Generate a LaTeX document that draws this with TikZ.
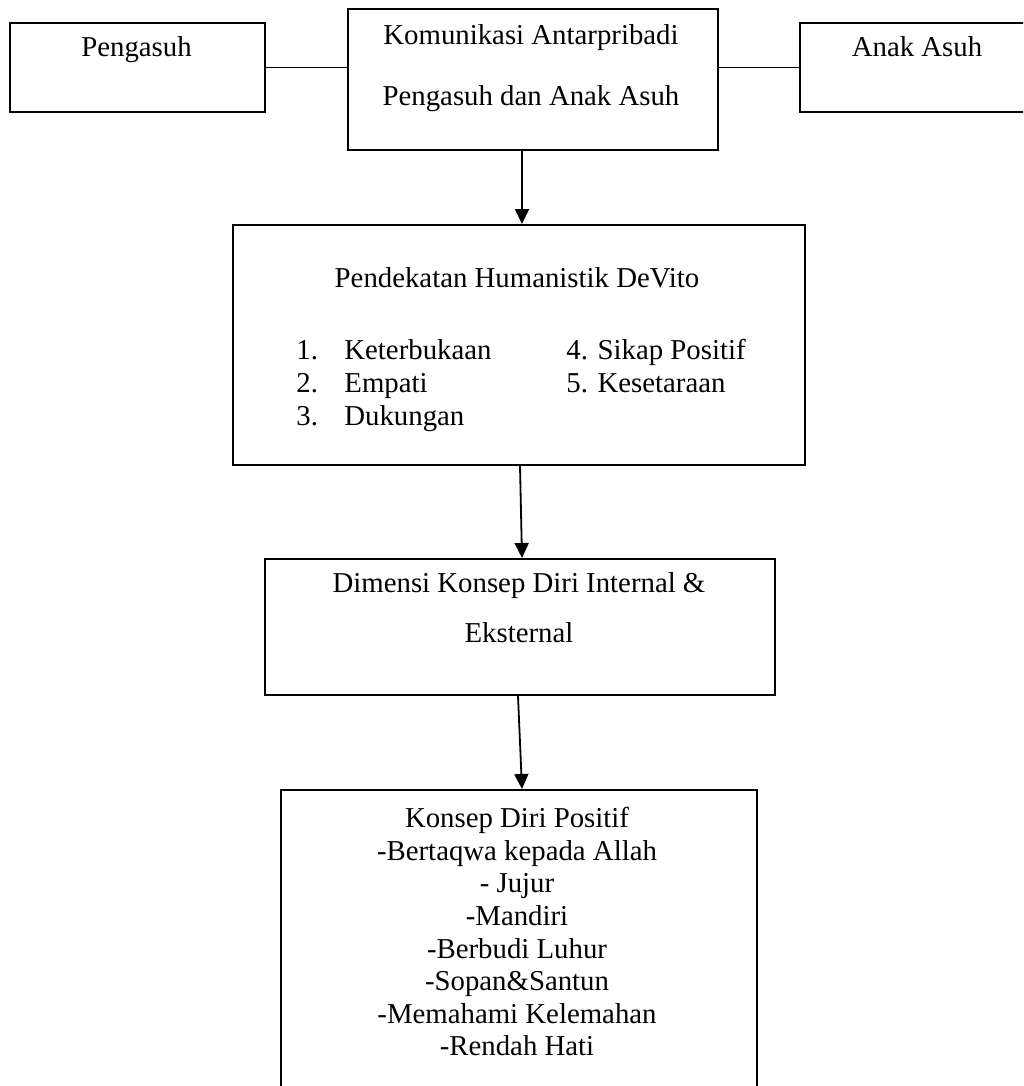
\documentclass[tikz,border=0pt]{standalone}
\usepackage{fontspec}
\setmainfont{Liberation Serif}
\usetikzlibrary{arrows.meta}
\begin{document}
\begin{tikzpicture}[x=0.5pt,y=-0.5pt,font=\fontsize{14.4}{17}\selectfont,
    box/.style={draw,line width=1pt,inner sep=0pt,anchor=north west},
    txt/.style={inner sep=0pt,text height=0.72em,text depth=0.22em},
    arr/.style={line width=0.9pt,-{Triangle[length=7.5pt,width=7pt]}}]
                    \useasboundingbox (0,0) rectangle (1023,1086);
                    \clip (0,0) rectangle (1023,1086);
                    \node[box,minimum width=127.5pt,minimum height=44.5pt] (bb0) at (9,22) {};
                    \node[box,minimum width=185pt,minimum height=70.5pt] (bb1) at (347,8) {};
                    \node[box,minimum width=118pt,minimum height=44.5pt] (bb2) at (799,22) {};
                    \node[box,minimum width=286pt,minimum height=120pt] (bb3) at (232,224) {};
                    \node[box,minimum width=255pt,minimum height=68pt] (bb4) at (264,558) {};
                    \node[box,minimum width=238pt,minimum height=162pt] (bb5) at (280,789) {};
                    \node[txt] (t0) at (136.5,52) {Pengasuh};
                    \node[txt] (t1) at (531,40) {Komunikasi Antarpribadi};
                    \node[txt] (t2) at (531,100) {Pengasuh dan Anak Asuh};
                    \node[txt] (t3) at (917,52) {Anak Asuh};
                    \node[txt] (t4) at (517,282) {Pendekatan Humanistik DeVito};
                    \node[txt,anchor=west] (n1) at (296,354) {1.};
                    \node[txt,anchor=west] (n2) at (296,387) {2.};
                    \node[txt,anchor=west] (n3) at (296,420) {3.};
                    \node[txt,anchor=west] (k1) at (344,354) {Keterbukaan};
                    \node[txt,anchor=west] (k2) at (344,387) {Empati};
                    \node[txt,anchor=west] (k3) at (344,420) {Dukungan};
                    \node[txt,anchor=west] (k4) at (566,354) {4. Sikap Positif};
                    \node[txt,anchor=west] (k5) at (566,387) {5. Kesetaraan};
                    \node[txt] (t5) at (519,587) {Dimensi Konsep Diri Internal \&};
                    \node[txt] (t6) at (519,637) {Eksternal};
                    \node[txt] (p0) at (517,822) {Konsep Diri Positif};
                    \node[txt] (p1) at (517,855) {-Bertaqwa kepada Allah};
                    \node[txt] (p2) at (517,887) {- Jujur};
                    \node[txt] (p3) at (517,920) {-Mandiri};
                    \node[txt] (p4) at (517,953) {-Berbudi Luhur};
                    \node[txt] (p5) at (517,985) {-Sopan\&Santun};
                    \node[txt] (p6) at (517,1018) {-Memahami Kelemahan};
                    \node[txt] (p7) at (517,1050) {-Rendah Hati};
                    \coordinate (c1) at (522,0);
                    \coordinate (c2) at (520,0);
                    \coordinate (c3) at (518,0);
                    \draw[line width=0.9pt] (bb0.east) -- (bb0.east -| bb1.west);
                    \draw[line width=0.9pt] (bb2.west -| bb1.east) -- (bb2.west);
                    \draw[arr] (bb1.south -| c1) -- (bb3.north -| c1);
                    \draw[arr] (bb3.south -| c2) -- (bb4.north -| c1);
                    \draw[arr] (bb4.south -| c3) -- (bb5.north -| c1);
                \end{tikzpicture}
\end{document}
